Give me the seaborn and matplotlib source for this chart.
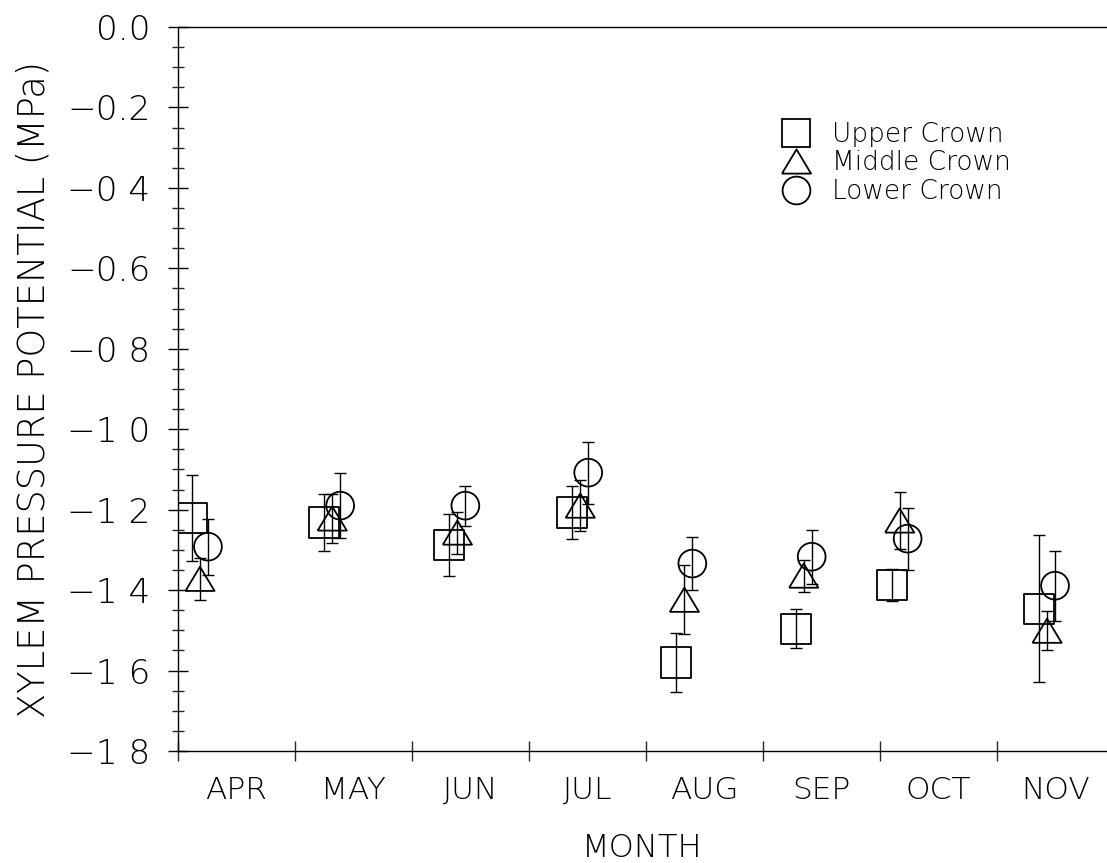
import matplotlib
matplotlib.use("Agg")
import matplotlib.pyplot as plt
import seaborn as sns
import pandas as pd
import numpy as np
from matplotlib.lines import Line2D
from matplotlib.ticker import FixedLocator, MultipleLocator
from matplotlib.markers import MarkerStyle

# ---------------- data ----------------
months = ["APR", "MAY", "JUN", "JUL", "AUG", "SEP", "OCT", "NOV"]
# sampling date within each month (months after 1 April)
sample_time = [0.12, 1.25, 2.32, 3.37, 4.26, 5.28, 6.10, 7.36]

series_names = ["Upper Crown", "Middle Crown", "Lower Crown"]

upper_mean = [-1.22, -1.232, -1.287, -1.207, -1.58, -1.496, -1.387, -1.446]
upper_err = [0.107, 0.07, 0.077, 0.065, 0.073, 0.048, 0.04, 0.182]

middle_mean = [-1.372, -1.222, -1.257, -1.19, -1.424, -1.364, -1.227, -1.501]
middle_err = [0.053, 0.06, 0.052, 0.063, 0.086, 0.04, 0.072, 0.048]

lower_mean = [-1.292, -1.19, -1.19, -1.108, -1.334, -1.317, -1.272, -1.389]
lower_err = [0.07, 0.08, 0.05, 0.077, 0.065, 0.067, 0.077, 0.087]

y_ticks = [0.0, -0.2, -0.4, -0.6, -0.8, -1.0, -1.2, -1.4, -1.6, -1.8]
y_tick_labels = ["0.0", "\u22120.2", "\u22120 4", "\u22120.6", "\u22120 8",
                 "\u22121 0", "\u22121 2", "\u22121 4", "\u22121 6", "\u22121 8"]

# ---------------- style ----------------
sns.set_theme(style="ticks")
plt.rcParams["font.family"] = ["DejaVu Sans"]
plt.rcParams["font.weight"] = "light"
plt.rcParams["text.color"] = "black"
plt.rcParams["axes.labelcolor"] = "black"
plt.rcParams["axes.labelweight"] = "light"

W, H = 1107, 863
fig = plt.figure(figsize=(W / 100, H / 100), dpi=100)
ax = fig.add_axes([178 / W, 112 / H, 929 / W, 724 / H])

tri = MarkerStyle([(-1, -0.83), (1, -0.83), (0, 0.83), (-1, -0.83)])
marker_styles = ["s", tri, "o"]
marker_sizes = [470, 440, 400]
offsets = [0.0, 0.068, 0.136]

means = [upper_mean, middle_mean, lower_mean]
errs = [upper_err, middle_err, lower_err]

for i, name in enumerate(series_names):
    x = np.array(sample_time) + offsets[i]
    ax.errorbar(x, means[i], yerr=errs[i], fmt="none", ecolor="black",
                elinewidth=1.0, capsize=4.5, capthick=1.0, zorder=2)
    df = pd.DataFrame({"x": x, "y": means[i]})
    sns.scatterplot(data=df, x="x", y="y", marker=marker_styles[i],
                    s=marker_sizes[i], facecolor="none", edgecolor="black",
                    linewidth=1.3, ax=ax, zorder=3, legend=False)

ax.set_xlim(0, 929 / 117)
ax.set_ylim(-1.8, 0.0)

# y axis
ax.yaxis.set_major_locator(FixedLocator(y_ticks))
ax.set_yticklabels(y_tick_labels)
ax.yaxis.set_minor_locator(MultipleLocator(0.05))
ax.tick_params(axis="y", which="major", direction="inout", length=14.5,
               width=1.0, labelsize=24.7, pad=12.5, colors="black")
ax.tick_params(axis="y", which="minor", direction="inout", length=9,
               width=1.0)

# x axis: ticks at month boundaries, labels centred in months
ax.set_xticks(np.arange(len(months)))
ax.set_xticklabels([])
ax.set_xticks(np.arange(len(months)) + 0.5, minor=True)
ax.set_xticklabels(months, minor=True)
ax.tick_params(axis="x", which="major", direction="inout", length=15,
               width=1.0)
ax.tick_params(axis="x", which="minor", length=0, labelsize=22.5, pad=18,
               colors="black")

ax.set_xlabel("MONTH", fontsize=23, labelpad=20)
ax.set_ylabel("XYLEM PRESSURE POTENTIAL (MPa)", fontsize=26.5, labelpad=11)

for side in ["left", "bottom", "top"]:
    ax.spines[side].set_linewidth(1.0)
    ax.spines[side].set_color("black")
ax.spines["right"].set_visible(False)

handles = [
    Line2D([], [], marker="s", ls="none", mfc="none", mec="black", ms=20, mew=1.3),
    Line2D([], [], marker=tri, ls="none", mfc="none", mec="black", ms=21, mew=1.3),
    Line2D([], [], marker="o", ls="none", mfc="none", mec="black", ms=20, mew=1.3),
]
ax.legend(handles, series_names, loc="upper left",
          bbox_to_anchor=((783 - 178) / 929, (751 - 122) / 724),
          frameon=False, fontsize=19, labelspacing=0.13, handlelength=1.0,
          handletextpad=0.85, borderpad=0, borderaxespad=0)

fig.savefig("out.png", dpi=100)
